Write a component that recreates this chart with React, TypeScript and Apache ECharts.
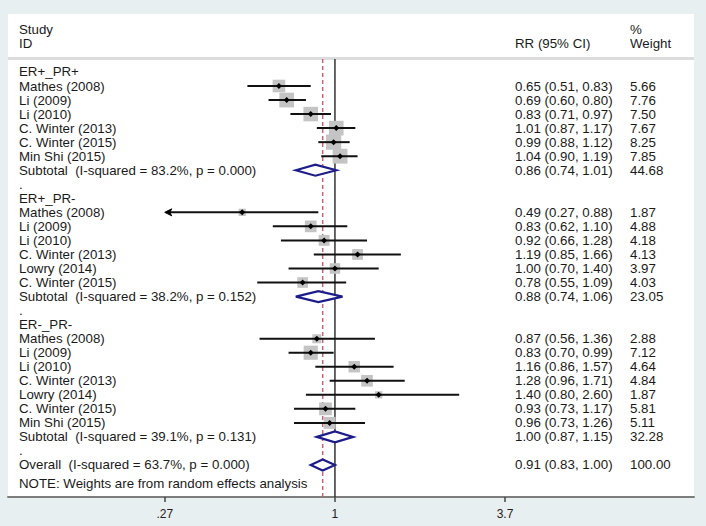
import React, { useEffect, useRef } from 'react';
import * as echarts from 'echarts';

// ---------- data ----------
const groupNames = ['ER+_PR+', 'ER+_PR-', 'ER-_PR-'];
const studyNames = [
  'Mathes (2008)', 'Li (2009)', 'Li (2010)', 'C. Winter (2013)', 'C. Winter (2015)', 'Min Shi (2015)',
  'Mathes (2008)', 'Li (2009)', 'Li (2010)', 'C. Winter (2013)', 'Lowry (2014)', 'C. Winter (2015)',
  'Mathes (2008)', 'Li (2009)', 'Li (2010)', 'C. Winter (2013)', 'Lowry (2014)', 'C. Winter (2015)', 'Min Shi (2015)',
];
const studyGroup = [0, 0, 0, 0, 0, 0, 1, 1, 1, 1, 1, 1, 2, 2, 2, 2, 2, 2, 2];
const studyRR = [0.65, 0.69, 0.83, 1.01, 0.99, 1.04, 0.49, 0.83, 0.92, 1.19, 1.0, 0.78, 0.87, 0.83, 1.16, 1.28, 1.4, 0.93, 0.96];
const studyLo = [0.51, 0.6, 0.71, 0.87, 0.88, 0.9, 0.27, 0.62, 0.66, 0.85, 0.7, 0.55, 0.56, 0.7, 0.86, 0.96, 0.8, 0.73, 0.73];
const studyHi = [0.83, 0.8, 0.97, 1.17, 1.12, 1.19, 0.88, 1.1, 1.28, 1.66, 1.4, 1.09, 1.36, 0.99, 1.57, 1.71, 2.6, 1.17, 1.26];
const studyWeight = [5.66, 7.76, 7.5, 7.67, 8.25, 7.85, 1.87, 4.88, 4.18, 4.13, 3.97, 4.03, 2.88, 7.12, 4.64, 4.84, 1.87, 5.81, 5.11];

const subI2 = ['83.2%', '38.2%', '39.1%'];
const subP = ['0.000', '0.152', '0.131'];
const subRR = [0.86, 0.88, 1.0];
const subLo = [0.74, 0.74, 0.87];
const subHi = [1.01, 1.06, 1.15];
const subWeight = [44.68, 23.05, 32.28];

const overallRR = 0.91;
const overallLo = 0.83;
const overallHi = 1.0;
const overallWeight = 100.0;
const overallI2 = '63.7%';
const overallP = '0.000';

const tickValues = [0.27, 1, 3.7];
const tickLabels = ['.27', '1', '3.7'];
const noteText = 'NOTE: Weights are from random effects analysis';

// ---------- layout constants ----------
const W = 706;
const H = 526;
const FONT = '"Liberation Sans", Arial, sans-serif';
const FS = 13.3;
const TEXT_COLOR = '#1a1a1a';
const PANEL = { x: 8, y: 14, w: 686, h: 483 };
const X_MIN = -2.515;
const X_MAX = 2.762;
const Y_MIN = -0.924;
const Y_MAX = 30.28;
const COL_NAME = 19;
const COL_CI = 515;
const COL_W = 630;

const fmtCI = (e: number, l: number, h: number) => `${e.toFixed(2)} (${l.toFixed(2)}, ${h.toFixed(2)})`;

// ---------- build rows ----------
const textRows: [number, string, string, string][] = [];
const studyData: number[][] = [];
const diamondData: number[][] = [];
let r = 0;
groupNames.forEach((g, gi) => {
  textRows.push([r, g, '', '']);
  r++;
  studyNames.forEach((n, i) => {
    if (studyGroup[i] !== gi) return;
    textRows.push([r, n, fmtCI(studyRR[i], studyLo[i], studyHi[i]), studyWeight[i].toFixed(2)]);
    studyData.push([Math.log(studyRR[i]), Math.log(studyLo[i]), Math.log(studyHi[i]), r, studyWeight[i]]);
    r++;
  });
  textRows.push([
    r,
    `Subtotal\u00a0 (I-squared = ${subI2[gi]}, p = ${subP[gi]})`,
    fmtCI(subRR[gi], subLo[gi], subHi[gi]),
    subWeight[gi].toFixed(2),
  ]);
  diamondData.push([Math.log(subRR[gi]), Math.log(subLo[gi]), Math.log(subHi[gi]), r]);
  r++;
  textRows.push([r, '.', '', '']);
  r++;
});
textRows.push([
  r,
  `Overall\u00a0 (I-squared = ${overallI2}, p = ${overallP})`,
  fmtCI(overallRR, overallLo, overallHi),
  overallWeight.toFixed(2),
]);
diamondData.push([Math.log(overallRR), Math.log(overallLo), Math.log(overallHi), r]);
textRows.push([r + 1.3, noteText, '', '']);

const clipLn = Math.log(tickValues[0]);

function txt(x: number, y: number, text: string, color = TEXT_COLOR) {
  return {
    type: 'text',
    x,
    y,
    style: {
      text,
      fill: color,
      font: `${FS}px ${FONT}`,
      align: 'left',
      verticalAlign: 'middle',
    },
  };
}

export default function App() {
  const ref = useRef<HTMLDivElement>(null);
  useEffect(() => {
    document.body.style.margin = '0';
    const chart = echarts.init(ref.current!, undefined, { renderer: 'svg' });
    chart.setOption({
      animation: false,
      backgroundColor: '#e8eff1',
      grid: { left: PANEL.x, right: W - (PANEL.x + PANEL.w), top: 59, bottom: H - (PANEL.y + PANEL.h) },
      xAxis: {
        type: 'value',
        min: X_MIN,
        max: X_MAX,
        splitLine: { show: false },
        axisLine: { show: true, onZero: false, lineStyle: { color: '#7d7d7d', width: 2 } },
        axisTick: {
          show: true,
          customValues: tickValues.map((v) => Math.log(v)),
          length: 5,
          lineStyle: { color: '#444', width: 1.5 },
        },
        axisLabel: {
          customValues: tickValues.map((v) => Math.log(v)),
          formatter: (v: number) => {
            const i = tickValues.findIndex((t) => Math.abs(Math.log(t) - v) < 1e-6);
            return i >= 0 ? tickLabels[i] : '';
          },
          color: '#222',
          fontSize: 12,
          fontFamily: FONT,
          margin: 11,
        },
      },
      yAxis: { type: 'value', inverse: true, min: Y_MIN, max: Y_MAX, show: false },
      graphic: [
        { type: 'rect', z: -10, shape: { x: PANEL.x, y: PANEL.y, width: PANEL.w, height: PANEL.h }, style: { fill: '#ffffff' } },
        { type: 'rect', z: -5, shape: { x: PANEL.x, y: 57, width: PANEL.w, height: 3 }, style: { fill: '#dcdcdc' } },
        txt(COL_NAME, 29, 'Study'),
        txt(COL_NAME, 43, 'ID'),
        txt(COL_CI, 43, 'RR (95% CI)'),
        txt(COL_W, 29, '%'),
        txt(COL_W, 43, 'Weight'),
      ],
      series: [
        {
          type: 'custom',
          z: 1,
          silent: true,
          data: [[0, Math.log(overallRR)]],
          renderItem: (params: any, api: any) => {
            const top = api.coord([0, Y_MIN])[1];
            const bottom = api.coord([0, Y_MAX])[1];
            const x1 = api.coord([api.value(0), 0])[0];
            const x2 = api.coord([api.value(1), 0])[0];
            return {
              type: 'group',
              children: [
                { type: 'line', shape: { x1, y1: top, x2: x1, y2: bottom }, style: { stroke: '#333', lineWidth: 1.5 } },
                {
                  type: 'line',
                  shape: { x1: x2, y1: top, x2: x2, y2: bottom },
                  style: { stroke: '#c8647a', lineWidth: 1.5, lineDash: [4, 3] },
                },
              ],
            };
          },
        },
        {
          type: 'custom',
          z: 2,
          silent: true,
          data: studyData,
          renderItem: (params: any, api: any) => {
            const est = api.value(0);
            const l = api.value(1);
            const h = api.value(2);
            const row = api.value(3);
            const w = api.value(4);
            const c = api.coord([est, row]);
            const clipped = l <= clipLn + 1e-9;
            const xl = api.coord([Math.max(l, clipLn), row])[0];
            const xh = api.coord([h, row])[0];
            const side = 5.3 * Math.sqrt(w);
            const children: any[] = [
              {
                type: 'rect',
                shape: { x: c[0] - side / 2, y: c[1] - side / 2, width: side, height: side },
                style: { fill: '#c4c4c4' },
              },
              { type: 'line', shape: { x1: clipped ? xl + 3 : xl, y1: c[1], x2: xh, y2: c[1] }, style: { stroke: '#111', lineWidth: 2 } },
              {
                type: 'polygon',
                shape: { points: [[c[0] - 3, c[1]], [c[0], c[1] - 3], [c[0] + 3, c[1]], [c[0], c[1] + 3]] },
                style: { fill: '#000' },
              },
            ];
            if (clipped) {
              children.push({
                type: 'polygon',
                shape: { points: [[xl, c[1]], [xl + 7, c[1] - 3.5], [xl + 5, c[1]], [xl + 7, c[1] + 3.5]] },
                style: { fill: '#000', stroke: '#000', lineWidth: 1 },
              });
            }
            return { type: 'group', children };
          },
        },
        {
          type: 'custom',
          z: 3,
          silent: true,
          data: diamondData,
          renderItem: (params: any, api: any) => {
            const row = api.value(3);
            const c = api.coord([api.value(0), row]);
            const xl = api.coord([api.value(1), row])[0];
            const xh = api.coord([api.value(2), row])[0];
            const hh = 5.5;
            return {
              type: 'polygon',
              shape: { points: [[xl, c[1]], [c[0], c[1] - hh], [xh, c[1]], [c[0], c[1] + hh]] },
              style: { fill: '#ffffff', stroke: '#1c1c8a', lineWidth: 2.2 },
            };
          },
        },
        {
          type: 'custom',
          z: 4,
          silent: true,
          data: textRows.map((t) => [t[0]]),
          renderItem: (params: any, api: any) => {
            const t = textRows[params.dataIndex];
            const y = api.coord([0, api.value(0)])[1];
            const children: any[] = [txt(COL_NAME, y, t[1])];
            if (t[2]) children.push(txt(COL_CI, y, t[2]));
            if (t[3]) children.push(txt(COL_W, y, t[3]));
            return { type: 'group', children };
          },
        },
      ],
    });
    return () => chart.dispose();
  }, []);
  return <div ref={ref} style={{ width: W, height: H }} />;
}
